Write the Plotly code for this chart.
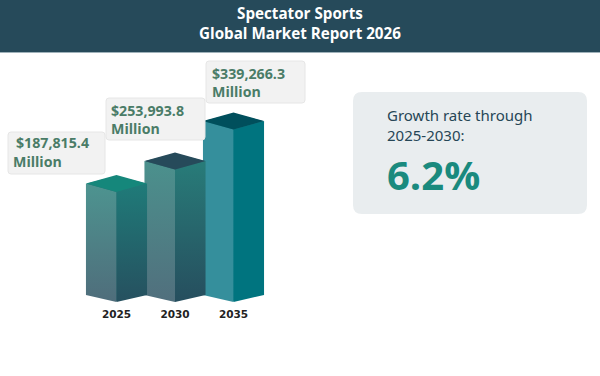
import plotly.graph_objects as go

years = ["2025", "2030", "2035"]
market_values = [187815.4, 253993.8, 339266.3]
# Drawn bar heights (the original's bars are decorative, not strictly proportional)
drawn_heights = [111.5, 134, 174]
title_lines = ["Spectator Sports", "Global Market Report 2026"]
panel_lines = ["Growth rate through", "2025-2030:"]
growth_rate = "6.2%"

W, H = 600, 376
HALF = 0.522
DEPTH = 8.5
TIP = 7

left_faces = [("#4d9490", "#4f6d7b"), ("#4b918d", "#516f7d"), ("#358f9c", "#358f9c")]
right_faces = [("#1f7b79", "#26505f"), ("#287c79", "#264e5e"), ("#00747f", "#00747f")]
top_faces = ["#15877b", "#264a5a", "#004f5c"]
backing = ["#2f6f74", "#2f6c72", "#1a7f8a"]
LABEL_BOX = [(8, 132, 105, 174), (106, 98, 205, 140), (206, 61, 305, 103)]


def grad(top, bottom):
    return dict(type="vertical", colorscale=[[0, bottom], [1, top]])


def face(xs, ys, top=None, bottom=None, solid=None):
    kw = dict(x=xs + xs[:1], y=ys + ys[:1], mode="lines", fill="toself",
              line=dict(width=0), hoverinfo="skip", showlegend=False)
    if solid:
        kw["fillcolor"] = solid
    else:
        kw["fillgradient"] = grad(top, bottom)
    return go.Scatter(**kw)


fig = go.Figure()
for i in (2, 1, 0):
    h = drawn_heights[i]
    inset = 0.02
    fig.add_trace(face([i - HALF + inset, i, i + HALF - inset, i + HALF - inset, i, i - HALF + inset],
                       [h, h + DEPTH - 1, h, 1, -TIP + 1, 1], solid=backing[i]))
    fig.add_trace(face([i - HALF, i, i, i - HALF], [h, h - DEPTH, -TIP, 0], *left_faces[i]))
    fig.add_trace(face([i, i + HALF, i + HALF, i], [h - DEPTH, h, 0, -TIP], *right_faces[i]))
    fig.add_trace(face([i - HALF, i, i + HALF, i], [h, h + DEPTH, h, h - DEPTH], solid=top_faces[i]))


def rrect(x0, y0, x1, y1, r):
    X = lambda v: v / W
    Y = lambda v: 1 - v / H
    rx, ry = r / W, r / H
    a, b, c, d = X(x0), X(x1), Y(y0), Y(y1)
    return (f"M{a+rx},{c} L{b-rx},{c} Q{b},{c} {b},{c-ry} L{b},{d+ry} Q{b},{d} {b-rx},{d} "
            f"L{a+rx},{d} Q{a},{d} {a},{d+ry} L{a},{c-ry} Q{a},{c} {a+rx},{c} Z")


shapes = [
    dict(type="rect", xref="paper", yref="paper", x0=0, x1=1, y0=1 - 52 / H, y1=1,
         fillcolor="#264a5a", line_width=0, layer="above"),
    dict(type="rect", xref="paper", yref="paper", x0=0, x1=1, y0=1 - 53 / H, y1=1 - 52 / H,
         fillcolor="#9fb2ba", line_width=0, layer="above"),
    dict(type="path", xref="paper", yref="paper", path=rrect(353, 92, 587, 214, 9),
         fillcolor="#e9edef", line=dict(width=0), layer="above"),
]
for b in LABEL_BOX:
    shapes.append(dict(type="path", xref="paper", yref="paper", path=rrect(*b, 3),
                       fillcolor="#f2f2f2", line=dict(color="#e6e6e6", width=1), layer="above"))


def text(s, x, y, size, color, bold=False, anchor="left", family="Open Sans"):
    fig.add_annotation(xref="paper", yref="paper", x=x / W, y=1 - y / H, text=f"<b>{s}</b>" if bold else s,
                       showarrow=False, xanchor=anchor, yanchor="middle", align=anchor,
                       font=dict(size=size, color=color, family=family), borderpad=0, borderwidth=0)


text("<br>".join(title_lines), 300, 23, 15.2, "white", True, "center")
label_x = [(16, 13), (111, 111), (212, 212)]
label_y = [(143, 161), (110, 128), (74, 92)]
for v, xs, ys in zip(market_values, label_x, label_y):
    text(f"${v:,.1f}", xs[0], ys[0], 14.2, "#4a7c67", True)
    text("Million", xs[1], ys[1], 14.2, "#4a7c67", True)
text("<br>".join(panel_lines), 387, 125.5, 15, "#264656", family="Noto Sans")
text(growth_rate, 387, 174, 40, "#1a8a7e", True)

fig.update_layout(
    width=W, height=H, margin=dict(l=0, r=0, t=0, b=0), autosize=False,
    paper_bgcolor="white", plot_bgcolor="white", shapes=shapes, showlegend=False,
    xaxis=dict(domain=[58 / W, 292 / W], range=[-1, 3], tickmode="array", tickvals=[0, 1, 2],
               ticktext=[f"<b>{y}</b>" for y in years],
               showgrid=False, zeroline=False, showline=False, ticks="", fixedrange=True,
               tickfont=dict(size=10.5, color="#222222", family="DejaVu Sans")),
    yaxis=dict(domain=[1 - 306 / H, 1 - 95 / H], range=[-11, 200], visible=False, fixedrange=True),
)
fig.write_html("out.html", config={"displayModeBar": False},
               post_script="document.body.style.margin='0';document.documentElement.style.overflow='hidden';")
